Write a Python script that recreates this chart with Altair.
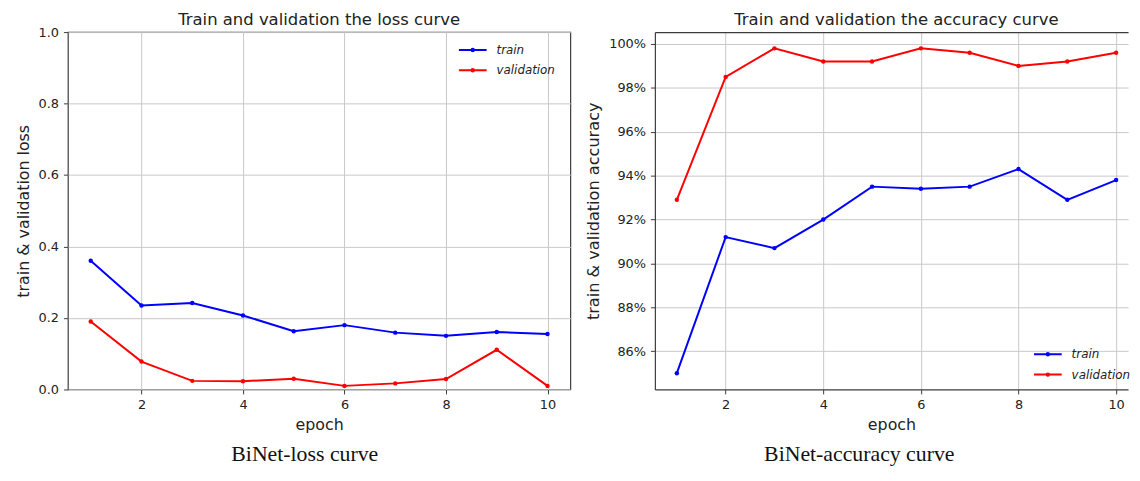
import altair as alt
import pandas as pd

# ---------------- data ----------------
epochs = [1, 2, 3, 4, 5, 6, 7, 8, 9, 10]
series = ["train", "validation"]
colors = ["#0000ff", "#ff0000"]

loss_train = [0.360, 0.235, 0.242, 0.207, 0.163, 0.180, 0.159, 0.150, 0.161, 0.155]
loss_val = [0.190, 0.078, 0.024, 0.023, 0.030, 0.010, 0.017, 0.029, 0.111, 0.010]

acc_train = [0.850, 0.912, 0.907, 0.920, 0.935, 0.934, 0.935, 0.943, 0.929, 0.938]
acc_val = [0.929, 0.985, 0.998, 0.992, 0.992, 0.998, 0.996, 0.990, 0.992, 0.996]

x_ticks = [2, 4, 6, 8, 10]
loss_ticks = [0.0, 0.2, 0.4, 0.6, 0.8, 1.0]
acc_ticks = [0.86, 0.88, 0.90, 0.92, 0.94, 0.96, 0.98, 1.00]

titles = ["Train and validation the loss curve", "Train and validation the accuracy curve"]
y_titles = ["train & validation loss", "train & validation accuracy"]
captions = ["BiNet-loss curve", "BiNet-accuracy curve"]

FONT = "DejaVu Sans"
SERIF = "Liberation Serif"
INK = "#222222"
FRAME = "#3c3c3c"
LEG_PATH = "M-2.8,0H2.8M-0.25,0A0.25,0.25,0,1,0,0.25,0A0.25,0.25,0,1,0,-0.25,0"


def long(train, val):
    return pd.DataFrame({
        "epoch": epochs + epochs,
        "value": train + val,
        "series": [series[0]] * len(epochs) + [series[1]] * len(epochs),
    })


def panel(df, ydomain, yticks, yfmt, ytitle, ytitle_size, title, caption, width, xdomain,
          legend_xy, title_offset, title_dx, caption_x, right_open):
    xscale = alt.Scale(domain=xdomain, nice=False, zero=False)
    yscale = alt.Scale(domain=ydomain, nice=False, zero=False)
    x_axis = alt.Axis(values=x_ticks, format="d", title="epoch", grid=True,
                      domain=right_open, domainColor=FRAME, domainWidth=1.2,
                      labelPadding=4.5, titlePadding=5)
    y_axis = alt.Axis(values=yticks, format=yfmt, title=ytitle, grid=True,
                      domain=right_open, domainColor=FRAME, domainWidth=1.2,
                      labelPadding=5, titlePadding=7, titleFontSize=ytitle_size)
    color = alt.Color(
        "series:N",
        scale=alt.Scale(domain=series, range=colors),
        legend=alt.Legend(
            title=None, orient="none", legendX=legend_xy[0], legendY=legend_xy[1],
            symbolType=LEG_PATH, symbolSize=100, symbolStrokeWidth=2,
            labelFont=FONT, labelFontStyle="italic", labelFontSize=12,
            labelColor=INK, labelOffset=18, rowPadding=8.5, padding=0,
        ),
    )
    line = alt.Chart(df).mark_line(strokeWidth=2).encode(
        x=alt.X("epoch:Q", scale=xscale, axis=x_axis),
        y=alt.Y("value:Q", scale=yscale, axis=y_axis),
        color=color,
    )
    if right_open:
        top_axis = alt.Axis(orient="top", labels=False, ticks=False, grid=False,
                            domain=True, domainColor=FRAME, domainWidth=1.2, title=None)
    else:
        top_axis = x_axis
    pts = alt.Chart(df).mark_circle(size=20, opacity=1).encode(
        x=alt.X("epoch:Q", scale=xscale, axis=top_axis),
        y=alt.Y("value:Q", scale=yscale, axis=y_axis),
        fill=alt.Fill("series:N", scale=alt.Scale(domain=series, range=colors), legend=None),
    )
    cap = alt.Chart(pd.DataFrame({"caption": [caption]})).mark_text(
        font=SERIF, fontSize=22, color="#111111", align="center", baseline="alphabetic"
    ).encode(text="caption:N", x=alt.value(caption_x), y=alt.value(433))
    props = dict(
        width=width, height=361,
        title=alt.TitleParams(title, offset=title_offset, dx=title_dx, fontSize=16.6, font=FONT,
                              fontWeight="normal", color=INK, anchor="middle", frame="group"),
    )
    if right_open:
        props["view"] = alt.ViewBackground(stroke="transparent")
    layered = alt.layer(line, pts, cap).properties(**props)
    if right_open:
        layered = layered.resolve_axis(x="independent")
    return layered


left = panel(long(loss_train, loss_val), [0.0, 1.0], loss_ticks, ".1f", y_titles[0], 16,
             titles[0], captions[0], 507.6, [0.55, 10.45], (403, 12), -2, 0, 239.3, False)
right = panel(long(acc_train, acc_val), [0.8426, 1.0054], acc_ticks, ".0%", y_titles[1], 16.3,
              titles[1], captions[1], 478, [0.55, 10.245], (391, 319.5), 4, 5, 206.5, True)

chart = alt.hconcat(left, right, spacing=85, bounds="flush").resolve_scale(
    color="independent", fill="independent"
).properties(
    padding={"left": 6.5, "top": 0, "right": 0, "bottom": 0}
).configure_view(
    stroke=FRAME, strokeWidth=1.2
).configure_axis(
    labelFont=FONT, labelFontSize=13, labelColor=INK,
    titleFont=FONT, titleFontSize=16, titleFontWeight="normal", titleColor=INK,
    tickColor=FRAME, tickSize=4.5, tickWidth=1,
    gridColor="#c8c8c8", gridWidth=1,
)

chart.save("out.html", embed_options={"renderer": "svg", "actions": False})
